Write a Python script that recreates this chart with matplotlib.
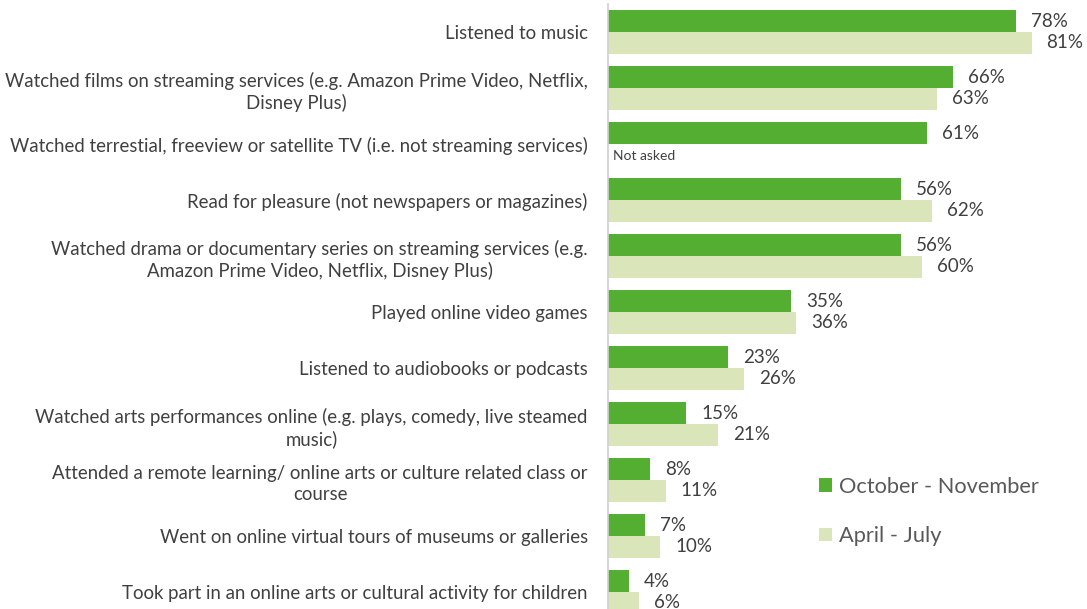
import matplotlib
matplotlib.use("Agg")
import matplotlib.pyplot as plt
from matplotlib.patches import Patch
import numpy as np

plt.rcParams['font.family'] = ['Lato', 'DejaVu Sans']

categories = [
    "Listened to music",
    "Watched films on streaming services (e.g. Amazon Prime Video, Netflix,\nDisney Plus)",
    "Watched terrestial, freeview or satellite TV (i.e. not streaming services)",
    "Read for pleasure (not newspapers or magazines)",
    "Watched drama or documentary series on streaming services (e.g.\nAmazon Prime Video, Netflix, Disney Plus)",
    "Played online video games",
    "Listened to audiobooks or podcasts",
    "Watched arts performances online (e.g. plays, comedy, live steamed\nmusic)",
    "Attended a remote learning/ online arts or culture related class or\ncourse",
    "Went on online virtual tours of museums or galleries",
    "Took part in an online arts or cultural activity for children",
]
oct_nov = [78, 66, 61, 56, 56, 35, 23, 15, 8, 7, 4]
apr_jul = [81, 63, None, 62, 60, 36, 26, 21, 11, 10, 6]
series_names = ["October - November", "April - July"]

DARK = "#53AE32"
LIGHT = "#DAE6BA"
TEXT = "#404040"

W, H = 1087, 609
fig = plt.figure(figsize=(W / 100, H / 100), dpi=100)
ax = fig.add_axes([608 / W, 0, 1 - 608 / W, 1 - 4 / H])

y = np.arange(len(categories))
bh = 0.393

ax.barh(y - bh / 2, oct_nov, height=bh, color=DARK)
apr_y = [yy + bh / 2 for yy, v in zip(y, apr_jul) if v is not None]
apr_v = [v for v in apr_jul if v is not None]
ax.barh(apr_y, apr_v, height=bh, color=LIGHT)

ax.set_xlim(0, 91.6)
ax.set_ylim(10.30, -0.5)

lab_fs = 13.5
for yy, v in zip(y, oct_nov):
    ax.annotate(f"{v}%", (v, yy - bh / 2), xytext=(15, 0), textcoords="offset pixels",
                ha="left", va="center", fontsize=lab_fs, color=TEXT)
for yy, v in zip(y, apr_jul):
    if v is None:
        ax.annotate("Not asked", (0, yy + bh / 2), xytext=(5, -1), textcoords="offset pixels",
                    ha="left", va="center", fontsize=10, color=TEXT)
    else:
        ax.annotate(f"{v}%", (v, yy + bh / 2), xytext=(15, 1), textcoords="offset pixels",
                    ha="left", va="center", fontsize=lab_fs, color=TEXT)

ax.set_yticks(y)
ax.set_yticklabels(categories, fontsize=13.4, color=TEXT, multialignment="center",
                   linespacing=1.3)
ax.tick_params(axis="y", length=0, pad=14.5)
ax.set_xticks([])

for s in ["top", "right", "bottom"]:
    ax.spines[s].set_visible(False)
ax.spines["left"].set_color("#D0D0D0")
ax.spines["left"].set_linewidth(1.2)

handles = [Patch(facecolor=DARK, edgecolor="none"), Patch(facecolor=LIGHT, edgecolor="none")]
fig.legend(handles, series_names, loc="upper left",
           bbox_to_anchor=(810 / W, 1 - 468 / H), frameon=False,
           fontsize=15.7, labelcolor="#595959", handlelength=0.6, handleheight=0.6,
           handletextpad=0.35, labelspacing=1.35, borderaxespad=0)

fig.savefig("out.png", dpi=100)
